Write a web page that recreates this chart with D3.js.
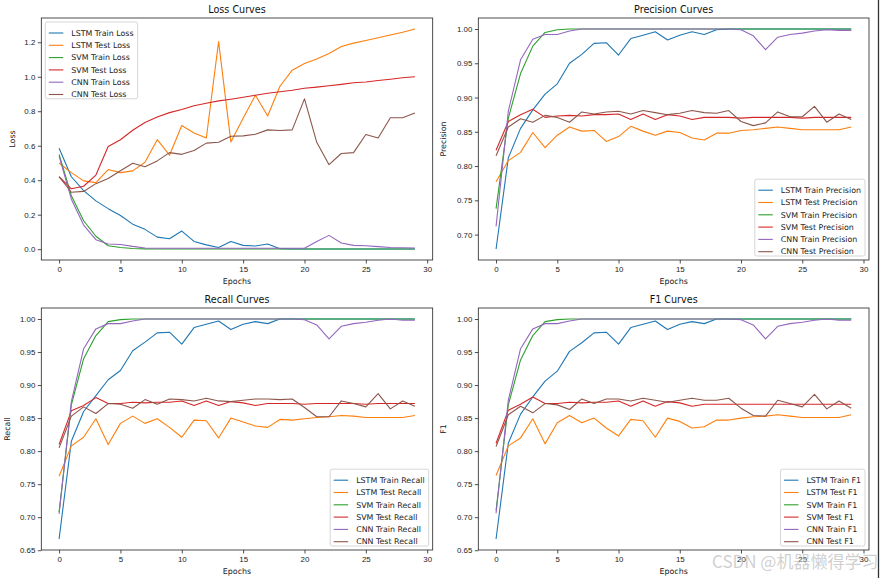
<!DOCTYPE html>
<html>
<head>
<meta charset="utf-8">
<script src="https://cdn.jsdelivr.net/npm/d3@7"></script>
<style>
  body { margin: 0; background: #fff; }
  svg { font-family: "DejaVu Sans", sans-serif; }
</style>
</head>
<body>
<div id="chart"></div>
<script>
// epochs 0..29
var epochs = [0,1,2,3,4,5,6,7,8,9,10,11,12,13,14,15,16,17,18,19,20,21,22,23,24,25,26,27,28,29];

// loss
var lstmTrainLoss = [0.585,0.42,0.34,0.28,0.235,0.195,0.145,0.115,0.07,0.06,0.105,0.045,0.025,0.01,0.045,0.022,0.018,0.03,0.003,0.002,0.001,0.001,0.001,0.001,0.001,0.001,0.001,0.001,0.001,0.001];
var lstmTestLoss = [0.50,0.444,0.396,0.386,0.462,0.444,0.454,0.504,0.635,0.545,0.717,0.674,0.645,1.204,0.622,0.76,0.893,0.772,0.945,1.038,1.077,1.103,1.135,1.175,1.195,1.21,1.226,1.242,1.258,1.277];
var svmTrainLoss = [0.55,0.31,0.165,0.075,0.02,0.01,0.004,0.002,0.001,0.001,0.001,0.001,0.001,0.001,0.001,0.001,0.001,0.001,0.001,0.001,0.001,0.001,0.001,0.001,0.001,0.001,0.001,0.001,0.001,0.001];
var svmTestLoss = [0.42,0.35,0.365,0.43,0.595,0.635,0.69,0.735,0.767,0.792,0.81,0.832,0.846,0.86,0.87,0.881,0.893,0.904,0.913,0.922,0.933,0.94,0.948,0.956,0.965,0.97,0.978,0.986,0.994,1.0];
var cnnTrainLoss = [0.54,0.29,0.14,0.055,0.03,0.027,0.016,0.007,0.005,0.005,0.005,0.005,0.005,0.005,0.005,0.005,0.005,0.005,0.005,0.005,0.005,0.045,0.08,0.036,0.022,0.02,0.015,0.01,0.008,0.007];
var cnnTestLoss = [0.42,0.33,0.335,0.38,0.41,0.455,0.498,0.478,0.512,0.56,0.55,0.572,0.615,0.62,0.655,0.657,0.667,0.692,0.688,0.692,0.872,0.62,0.49,0.555,0.56,0.665,0.645,0.762,0.762,0.79];

// precision
var lstmTrainPrec = [0.679,0.812,0.855,0.882,0.905,0.92,0.95,0.963,0.979,0.98,0.962,0.986,0.991,0.996,0.984,0.991,0.996,0.992,0.999,1.0,1.0,1.0,1.0,1.0,1.0,1.0,1.0,1.0,1.0,1.0];
var lstmTestPrec = [0.777,0.808,0.820,0.849,0.827,0.845,0.857,0.851,0.852,0.836,0.843,0.858,0.851,0.845,0.851,0.849,0.841,0.838,0.848,0.848,0.852,0.853,0.855,0.857,0.855,0.853,0.853,0.853,0.853,0.857];
var svmTrainPrec = [0.738,0.87,0.935,0.975,0.995,0.999,1.0,1.0,1.0,1.0,1.0,1.0,1.0,1.0,1.0,1.0,1.0,1.0,1.0,1.0,1.0,1.0,1.0,1.0,1.0,1.0,1.0,1.0,1.0,1.0];
var svmTestPrec = [0.823,0.865,0.875,0.883,0.871,0.873,0.874,0.873,0.875,0.875,0.876,0.868,0.876,0.868,0.875,0.873,0.868,0.871,0.871,0.871,0.870,0.871,0.871,0.871,0.871,0.870,0.871,0.871,0.871,0.871];
var cnnTrainPrec = [0.712,0.88,0.955,0.985,0.992,0.992,0.997,1.0,1.0,1.0,1.0,1.0,1.0,1.0,1.0,1.0,1.0,1.0,1.0,1.0,0.999,0.99,0.97,0.988,0.992,0.994,0.997,0.999,0.998,0.998];
var cnnTestPrec = [0.815,0.857,0.869,0.864,0.874,0.871,0.864,0.879,0.876,0.879,0.88,0.876,0.881,0.878,0.875,0.877,0.881,0.878,0.877,0.881,0.865,0.859,0.863,0.879,0.872,0.872,0.887,0.864,0.876,0.868];

// recall
var lstmTrainRec = [0.667,0.815,0.86,0.884,0.908,0.922,0.952,0.965,0.979,0.98,0.962,0.987,0.992,0.997,0.984,0.992,0.996,0.993,1.0,1.0,1.0,1.0,1.0,1.0,1.0,1.0,1.0,1.0,1.0,1.0];
var lstmTestRec = [0.762,0.808,0.821,0.849,0.81,0.842,0.853,0.842,0.849,0.836,0.821,0.847,0.846,0.82,0.85,0.844,0.838,0.836,0.848,0.847,0.849,0.851,0.852,0.854,0.853,0.851,0.851,0.851,0.851,0.854];
var svmTrainRec = [0.708,0.87,0.94,0.975,0.996,0.999,1.0,1.0,1.0,1.0,1.0,1.0,1.0,1.0,1.0,1.0,1.0,1.0,1.0,1.0,1.0,1.0,1.0,1.0,1.0,1.0,1.0,1.0,1.0,1.0];
var svmTestRec = [0.81,0.861,0.869,0.881,0.872,0.872,0.874,0.873,0.874,0.874,0.876,0.869,0.876,0.869,0.875,0.873,0.869,0.872,0.872,0.872,0.871,0.872,0.872,0.872,0.872,0.871,0.872,0.872,0.872,0.872];
var cnnTrainRec = [0.705,0.875,0.955,0.985,0.993,0.993,0.997,1.0,1.0,1.0,1.0,1.0,1.0,1.0,1.0,1.0,1.0,1.0,1.0,1.0,0.999,0.991,0.97,0.989,0.993,0.995,0.998,1.0,0.998,0.998];
var cnnTestRec = [0.805,0.853,0.867,0.857,0.872,0.871,0.865,0.878,0.871,0.879,0.878,0.876,0.88,0.876,0.875,0.877,0.879,0.879,0.878,0.879,0.866,0.852,0.852,0.876,0.872,0.867,0.887,0.864,0.876,0.868];

// f1
var lstmTrainF1 = [0.667,0.812,0.856,0.882,0.906,0.921,0.951,0.964,0.979,0.98,0.962,0.987,0.992,0.997,0.984,0.992,0.996,0.993,1.0,1.0,1.0,1.0,1.0,1.0,1.0,1.0,1.0,1.0,1.0,1.0];
var lstmTestF1 = [0.763,0.808,0.82,0.849,0.811,0.843,0.854,0.843,0.85,0.835,0.823,0.848,0.846,0.821,0.85,0.845,0.835,0.837,0.847,0.847,0.85,0.852,0.853,0.855,0.853,0.851,0.851,0.851,0.851,0.855];
var svmTrainF1 = [0.71,0.87,0.938,0.975,0.996,0.999,1.0,1.0,1.0,1.0,1.0,1.0,1.0,1.0,1.0,1.0,1.0,1.0,1.0,1.0,1.0,1.0,1.0,1.0,1.0,1.0,1.0,1.0,1.0,1.0];
var svmTestF1 = [0.812,0.862,0.871,0.882,0.872,0.872,0.874,0.873,0.874,0.874,0.876,0.868,0.876,0.868,0.875,0.873,0.868,0.871,0.871,0.871,0.871,0.871,0.871,0.871,0.871,0.871,0.871,0.871,0.871,0.871];
var cnnTrainF1 = [0.706,0.877,0.955,0.985,0.993,0.993,0.997,1.0,1.0,1.0,1.0,1.0,1.0,1.0,1.0,1.0,1.0,1.0,1.0,1.0,0.999,0.991,0.97,0.989,0.993,0.995,0.998,1.0,0.998,0.998];
var cnnTestF1 = [0.807,0.855,0.868,0.858,0.872,0.870,0.863,0.879,0.872,0.879,0.879,0.876,0.88,0.877,0.874,0.877,0.88,0.877,0.877,0.88,0.865,0.854,0.853,0.877,0.872,0.867,0.886,0.864,0.876,0.865];

var xTicks = [0,5,10,15,20,25,30];
var lossTicks = [0.0,0.2,0.4,0.6,0.8,1.0,1.2];
var precTicks = [0.70,0.75,0.80,0.85,0.90,0.95,1.00];
var recTicks = [0.65,0.70,0.75,0.80,0.85,0.90,0.95,1.00];

var colors = ["#1f77b4","#ff7f0e","#2ca02c","#d62728","#9467bd","#8c564b"];
var models = ["LSTM Train","LSTM Test","SVM Train","SVM Test","CNN Train","CNN Test"];

var svg = d3.select("#chart").append("svg")
    .attr("width", 880)
    .attr("height", 578);

function drawPanel(p) {
    var x = d3.scaleLinear().domain([-1.45, 30.45]).range([p.left, p.right]);
    var all = [].concat.apply([], p.series);
    var lo = d3.min(all), hi = d3.max(all);
    var pad = (hi - lo) * 0.05;
    var y = d3.scaleLinear().domain([lo - pad, hi + pad]).range([p.bottom, p.top]);

    var g = svg.append("g");

    // lines
    var line = d3.line()
        .x(function(d, i) { return x(epochs[i]); })
        .y(function(d) { return y(d); });
    p.series.forEach(function(s, i) {
        g.append("path")
          .datum(s)
          .attr("fill", "none")
          .attr("stroke", colors[i])
          .attr("stroke-width", 1.1)
          .attr("stroke-linejoin", "round")
          .attr("d", line);
    });

    // axes
    var xa = g.append("g")
        .attr("transform", "translate(0," + p.bottom + ")")
        .call(d3.axisBottom(x).tickValues(xTicks).tickSize(3.5).tickPadding(2.5).tickFormat(d3.format("d")));
    var ya = g.append("g")
        .attr("transform", "translate(" + p.left + ",0)")
        .call(d3.axisLeft(y).tickValues(p.ticks).tickSize(3.5).tickPadding(2.5).tickFormat(d3.format(p.fmt)));
    [xa, ya].forEach(function(a) {
        a.select(".domain").remove();
        a.selectAll("line").attr("stroke", "#222").attr("stroke-width", 0.8);
        a.selectAll("text").attr("fill", "#222").style("font-size", "7.9px");
    });

    // frame
    g.append("rect")
        .attr("x", p.left).attr("y", p.top)
        .attr("width", p.right - p.left).attr("height", p.bottom - p.top)
        .attr("fill", "none").attr("stroke", "#222").attr("stroke-width", 0.8);

    // title and labels
    g.append("text")
        .attr("x", (p.left + p.right) / 2).attr("y", p.top - 5)
        .attr("text-anchor", "middle")
        .style("font-size", "9.6px")
        .attr("fill", "#111")
        .text(p.title);
    g.append("text")
        .attr("x", (p.left + p.right) / 2).attr("y", p.bottom + 24)
        .attr("text-anchor", "middle")
        .style("font-size", "7.9px")
        .attr("fill", "#222")
        .text("Epochs");
    g.append("text")
        .attr("transform", "translate(" + p.ylabX + "," + ((p.top + p.bottom) / 2) + ")rotate(-90)")
        .attr("text-anchor", "middle")
        .style("font-size", "7.9px")
        .attr("fill", "#222")
        .text(p.ylabel);

    // legend
    var rowH = 12.3;
    var lg = g.append("g");
    var box = lg.append("rect")
        .attr("fill", "#fff").attr("fill-opacity", 0.8)
        .attr("stroke", "#ccc").attr("stroke-width", 0.8)
        .attr("rx", 2);
    var maxW = 0;
    models.forEach(function(m, i) {
        var cy = 7 + rowH * i + 4;
        lg.append("line")
            .attr("x1", 3.5).attr("x2", 18)
            .attr("y1", cy).attr("y2", cy)
            .attr("stroke", colors[i]).attr("stroke-width", 1.1);
        var t = lg.append("text")
            .attr("x", 26).attr("y", cy + 2.8)
            .style("font-size", "7.9px")
            .attr("fill", "#222")
            .text(m + " " + p.name);
        maxW = Math.max(maxW, t.node().getComputedTextLength());
    });
    var bw = 26 + maxW + 4, bh = rowH * 6 + 3;
    box.attr("width", bw).attr("height", bh);
    var lx, ly;
    if (p.legend === "ul") { lx = p.left + 4; ly = p.top + 4; }
    else { lx = p.right - 4 - bw; ly = p.bottom - 4 - bh; }
    lg.attr("transform", "translate(" + lx + "," + ly + ")");
}

drawPanel({title: "Loss Curves", name: "Loss", ylabel: "Loss", legend: "ul",
    left: 41.3, right: 432.7, top: 18, bottom: 260, ylabX: 15, ticks: lossTicks, fmt: ".1f",
    series: [lstmTrainLoss, lstmTestLoss, svmTrainLoss, svmTestLoss, cnnTrainLoss, cnnTestLoss]});
drawPanel({title: "Precision Curves", name: "Precision", ylabel: "Precision", legend: "lr",
    left: 478.3, right: 869, top: 18, bottom: 260, ylabX: 446, ticks: precTicks, fmt: ".2f",
    series: [lstmTrainPrec, lstmTestPrec, svmTrainPrec, svmTestPrec, cnnTrainPrec, cnnTestPrec]});
drawPanel({title: "Recall Curves", name: "Recall", ylabel: "Recall", legend: "lr",
    left: 41.3, right: 432.7, top: 308, bottom: 550, ylabX: 10, ticks: recTicks, fmt: ".2f",
    series: [lstmTrainRec, lstmTestRec, svmTrainRec, svmTestRec, cnnTrainRec, cnnTestRec]});
drawPanel({title: "F1 Curves", name: "F1", ylabel: "F1", legend: "lr",
    left: 478.3, right: 869, top: 308, bottom: 550, ylabX: 446, ticks: recTicks, fmt: ".2f",
    series: [lstmTrainF1, lstmTestF1, svmTrainF1, svmTestF1, cnnTrainF1, cnnTestF1]});

// right edge line of the screenshot
svg.append("line")
    .attr("x1", 878.5).attr("x2", 878.5).attr("y1", 0).attr("y2", 578)
    .attr("stroke", "#333").attr("stroke-width", 1.3);

// watermark
svg.append("text")
    .attr("x", 712).attr("y", 568)
    .style("font-family", "'Noto Sans CJK SC', sans-serif")
    .style("font-size", "17px")
    .attr("fill", "#bbb").attr("fill-opacity", 0.7)
    .text("CSDN @机器懒得学习");
</script>
</body>
</html>
